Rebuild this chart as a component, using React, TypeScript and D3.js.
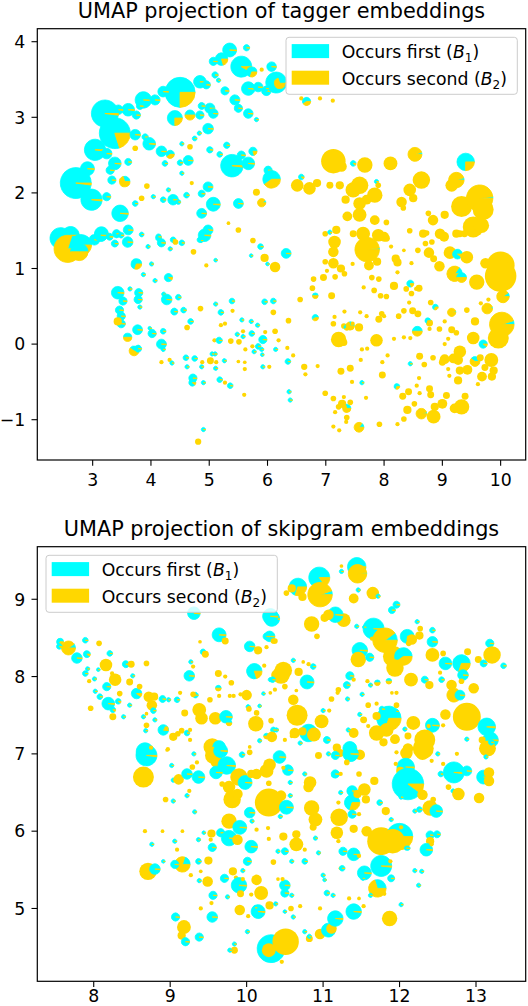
import * as d3 from 'd3';

type Pt = [number, number, number, number]; // x, y, count, share that occurs first

// UMAP of tagger embeddings
const taggerPoints: Pt[] = [
  [5.64,3.92,3.5,.98],[5.35,3.89,17,.98],[5.21,3.77,14,.8],[5.07,3.74,6,.98],[5.55,3.67,39,.92],
  [5.73,3.60,9,.7],[5.90,3.63,1.6,0],[6.07,3.67,8,.98],[4.84,3.47,14,.98],[5.10,3.56,3.5,.98],
  [5.16,3.49,1.6,.98],[4.50,3.33,80,.75],[4.21,3.34,10,.98],[4.95,3.43,6,.98],[5.27,3.35,6,.98],
  [5.44,3.23,9,.98],[5.50,3.12,6,.98],[5.67,3.38,16,.98],[5.84,3.40,8,.98],[5.98,3.35,8,.98],
  [6.15,3.46,39,.98],[6.21,3.45,10,.3],[5.67,3.05,8,.98],[5.81,2.97,1.6,.98],[3.87,3.23,24,.98],
  [4.07,3.23,9,.98],[3.81,3.15,4.3,.98],[3.61,3.10,14,.98],[3.44,3.10,8,.98],[3.75,3.03,6,.98],
  [3.21,3.05,65,.98],[3.38,2.79,85,.8],[4.41,2.99,20,.75],[4.67,3.03,9,.5],[5.01,3.12,9,.98],
  [4.87,3.15,4.3,.98],[5.07,3.05,8,.98],[4.84,3.03,6,.98],[4.98,2.85,9.8,.98],[4.83,2.79,1.6,.98],
  [4.75,2.72,2,.98],[3.73,2.77,9.8,.98],[3.90,2.74,3.5,.98],[3.97,2.65,14,.98],[3.04,2.57,40,.98],
  [3.24,2.52,9.8,.98],[3.38,2.39,14,.98],[3.61,2.41,4.3,.98],[3.73,2.59,2.8,0],[4.18,2.55,9.8,.98],
  [4.33,2.51,6,.6],[4.24,2.39,2.8,.98],[4.53,2.65,1.6,.98],[4.67,2.61,2.8,0],[4.64,2.43,8.5,.98],
  [4.50,2.40,2.8,.98],[4.53,2.26,1.6,.98],[5.01,2.57,3.5,.98],[5.18,2.51,2.8,.98],[5.30,2.63,3.5,.98],
  [5.39,2.36,45,.98],[5.67,2.39,14,.98],[5.75,2.55,6,.8],[5.55,2.50,6,.98],[6.01,2.30,6,.98],
  [6.07,2.18,27,.6],[5.98,3.38,2,.98],[6.58,3.25,1.6,0],[6.67,3.21,6,.6],[6.90,3.25,1.6,0],
  [7.12,3.22,1.6,0],[5.81,2.01,4.3,0],[5.90,1.87,6,.1],[5.50,1.86,8.5,.98],[4.98,2.08,8.5,.98],
  [5.07,1.85,17,.98],[4.87,1.99,4.3,.98],[4.70,2.13,1.6,0],[4.61,1.97,2.8,.98],[4.38,1.91,9.8,.98],
  [4.30,2.04,1.6,.98],[3.93,2.09,2.8,0],[3.55,2.15,9.8,.3],[3.30,2.30,6,.98],[2.91,2.32,17,.98],
  [2.71,2.13,85,.98],[2.98,1.91,40,.98],[3.24,1.95,6,.98],[3.33,2.17,6,.98],[3.47,1.73,24,.98],
  [3.61,1.51,8.5,.98],[3.15,1.46,17,.98],[3.41,1.46,6,.98],[3.84,1.93,2.8,0],[4.04,1.95,1.6,.98],
  [3.73,1.86,2.8,.98],[4.21,1.91,2.8,.98],[4.47,1.88,2,.98],[4.87,1.73,8.5,.98],[5.33,1.60,1.2,0],
  [5.50,1.51,2.8,0],[4.98,1.51,8.5,.98],[4.84,1.38,2.8,.98],[4.13,1.40,2.8,.98],[4.38,1.38,2.8,.98],
  [2.45,1.40,40,.9],[2.62,1.44,27,.98],[2.80,1.31,39,.4],[2.57,1.26,65,.2],[2.77,1.22,27,.5],
  [3.03,1.38,9.8,.98],[3.14,1.44,14,.98],[3.29,1.42,4.3,.98],[3.38,1.33,4.3,.98],[3.49,1.44,2.8,.98],
  [3.60,1.35,9.8,.98],[3.84,1.45,2,.98],[3.95,1.29,1.6,.98],[4.13,1.42,2.8,.98],[4.18,1.34,6,.98],
  [4.33,1.26,1.6,.98],[4.42,1.35,2.8,0],[4.53,1.34,2.8,.98],[4.92,1.44,14,.98],[4.86,1.37,1.6,.98],
  [4.73,1.22,2.8,0],[4.95,1.04,1.6,0],[5.11,1.11,1.2,.98],[3.75,1.06,9.8,.7],[4.01,1.06,1.6,.98],
  [4.07,0.84,1.6,.98],[4.30,0.88,6,.9],[3.87,0.92,1.6,.98],[3.43,0.68,14,.98],[3.64,0.73,1.6,.98],
  [3.79,0.68,6,.98],[3.78,0.59,6,.98],[3.52,0.57,6,.98],[3.46,0.45,6,.98],[3.49,0.37,6,.98],
  [3.49,0.27,6,.98],[3.43,0.30,6,0],[3.81,0.49,1.6,.98],[3.60,0.09,6,.5],[3.77,0.19,8.5,.98],
  [3.71,-0.09,8.5,.4],[3.78,-0.06,4.3,.98],[3.98,0.21,1.2,.98],[4.02,0.14,6,.98],[4.21,0.17,2.8,.98],
  [4.18,0.0,8.5,.98],[4.21,-0.07,1.6,.98],[4.18,-0.24,1.6,0],[4.32,-0.21,1.6,0],[4.36,-0.25,1.6,.98],
  [4.22,0.66,1.6,.98],[4.27,0.59,9.8,.98],[4.47,0.62,2.8,.98],[4.40,0.43,4.3,.98],[4.56,0.45,2.8,.98],
  [4.68,0.30,2.8,.98],[4.62,0.22,2.8,0],[4.85,0.47,2.8,0],[4.60,-0.18,2.8,.98],[4.62,-0.30,1.6,.98],
  [4.75,-0.19,2.8,.98],[4.72,-0.45,6,.98],[4.71,-0.51,4.3,.9],[4.87,-0.30,1.6,.98],[4.88,-0.24,1.6,0],
  [4.90,-1.13,1.6,.98],[4.81,-1.29,3.5,0],[4.90,-0.51,1.6,.98],[5.02,-0.22,4.3,0],[5.10,-0.13,1.6,.98],
  [5.12,-0.24,1.6,0],[5.11,-0.32,1.6,.98],[5.05,-0.13,1.6,.98],[5.09,0.05,1.6,0],[5.17,0.05,3.5,.98],
  [5.11,0.53,1.6,.98],[5.20,0.42,2.8,.98],[5.20,0.25,1.6,0],[5.27,0.27,1.6,0],[5.18,-0.47,2.8,.98],
  [5.27,-0.51,1.6,0],[5.36,-0.55,2.8,.98],[5.26,-0.22,1.6,.98],[5.37,0.04,2.8,0],[5.39,0.57,2.8,.98],
  [5.40,0.44,1.6,0],[5.48,0.13,1.6,.98],[5.51,0.03,2.8,0],[5.50,-0.23,1.2,0],[5.56,0.32,1.6,.98],
  [5.58,0.17,1.6,0],[5.58,0.10,1.6,.98],[5.61,-0.33,1.6,0],[5.61,-0.24,1.2,0],[5.60,-0.67,1.6,0],
  [5.62,-0.07,1.6,0],[5.72,0.30,1.6,.98],[5.73,0.14,2.8,.98],[5.74,-0.03,1.6,0],[5.77,-0.10,1.6,.98],
  [5.83,0.25,1.6,.98],[5.84,-0.03,2.8,.98],[5.92,0.06,6,.98],[5.90,-0.07,1.6,.98],[5.91,-0.14,1.2,.98],
  [5.92,-0.30,1.6,.98],[5.95,0.56,2.8,.98],[5.96,0.16,1.6,0],[6.0,1.06,1.2,.98],[5.72,1.17,1.2,.98],
  [5.75,1.37,2.8,0],[5.88,1.29,2.8,.98],[5.95,1.14,6,0],[6.03,-0.30,1.6,0],[6.10,0.57,2.8,.98],
  [6.10,0.42,2.8,0],[6.13,0.17,2.8,0],[6.13,1.02,9.8,0],[6.14,-0.07,1.6,.98],[6.19,0.05,1.6,0],
  [6.32,1.20,8.5,.98],[6.34,-0.05,1.6,0],[6.36,0.31,2.8,0],[6.35,-0.23,2.8,.98],[6.37,-0.63,1.6,.98],
  [6.39,-0.74,1.6,.98],[6.44,-0.15,1.6,0],[6.56,0.59,2.8,0],[6.63,-0.30,3.5,0],[6.65,-0.40,1.6,0],
  [6.86,-0.29,1.6,0],
  [6.82,0.64,2.8,.5],[6.82,0.35,3.5,.6],[6.79,0.86,2.8,0],[6.77,0.74,2.8,0],[6.96,0.88,4.3,0],
  [6.99,1.09,2.8,0],[7.02,0.97,1.6,0],[7.10,0.64,4.3,0],[7.13,0.27,2.8,0],[7.15,0.36,1.6,0],
  [7.16,0.89,2.8,0],[7.15,1.35,14,0],[7.13,1.22,9.8,0],[7.13,1.07,9.8,0],[7.26,1.00,6,0],
  [7.32,0.93,2.8,0],[7.46,1.06,1.6,0],[6.99,1.46,2.8,0],[7.22,0.06,21,0],[7.31,0.02,4.3,0],
  [7.32,0.43,1.6,0],[7.31,0.24,2.8,0],[7.36,0.22,2.8,.6],[7.42,0.24,6,.3],[7.46,0.27,1.6,0],
  [7.57,0.22,6,0],[7.59,0.42,1.6,0],[7.70,0.37,1.6,0],[7.65,0.75,1.6,0],[7.83,0.71,2.8,0],
  [7.87,0.05,14,0],[7.91,0.33,4.3,0],[7.96,0.40,2.8,0],[8.00,0.37,1.6,0],[8.04,0.63,2.8,0],
  [7.94,0.64,2.8,0],[7.79,0.88,2.8,0],[7.91,0.86,2.8,0],[7.71,1.25,53,.02],[7.74,1.04,8.5,0],
  [7.88,1.09,6,0],[8.00,1.42,8.5,0],[8.12,1.29,1.6,0],[8.20,1.13,6,0],[8.23,1.08,6,0],
  [8.23,0.95,1.6,0],[8.17,0.77,6,0],[8.34,1.24,1.2,0],[8.47,1.07,1.6,0],[8.55,0.73,1.6,0],
  [8.60,0.74,4.3,0],[8.45,0.80,4.3,.8],[8.38,0.73,2.8,0],[8.47,0.67,2.8,0],[8.43,0.55,1.6,0],
  [8.49,0.44,4.3,0],[8.58,0.40,4.3,0],[8.34,0.44,2.8,0],[8.25,0.37,2.8,0],[8.17,0.07,1.6,0],
  [8.34,0.09,1.6,0],[8.45,0.08,1.6,0],[8.57,0.17,8.5,.5],[8.78,0.28,4.3,0],[8.80,0.55,2.8,0],
  [8.88,0.49,2.8,.7],[8.75,0.31,2.8,.7],[8.78,0.20,1.6,0],[8.95,0.20,2.8,0],[9.04,0.30,1.6,0],
  [9.04,0.00,1.6,0],[9.10,0.07,1.6,0],[9.16,0.42,6,.05],[9.16,0.19,4.3,0],[9.24,0.15,2.8,0],
  [9.42,0.45,2.8,0],[9.56,0.30,6,0],[9.53,0.08,14,0],[9.77,0.47,9.8,.05],[9.66,0.54,1.6,0],
  [9.79,0.59,1.6,0],[10.04,0.63,14,.1],[10.02,0.26,53,.05],[9.96,0.08,39,0],[9.70,0.00,6,.9],
  [9.30,-0.10,14,0],[9.27,-0.21,8.5,0],[9.19,-0.19,8.5,0],[9.04,-0.20,8.5,0],[9.10,-0.33,1.6,0],
  [9.12,-0.42,1.6,0],[9.27,-0.48,6,0],[9.30,-0.35,6,0],[9.43,-0.34,8.5,0],[9.56,-0.23,8.5,.4],
  [9.65,-0.18,4.3,0],[9.84,-0.21,17,0],[9.73,-0.31,4.3,0],[9.88,-0.35,6,0],[9.68,-0.43,8.5,0],
  [9.85,-0.43,6,0],[9.61,-0.53,1.6,0],[9.39,-0.69,4.3,0],[9.33,-0.83,21,0],[9.21,-0.85,8.5,0],
  [9.07,-0.68,4.3,0],[9.00,-0.79,8.5,0],[8.87,-0.83,6,0],[8.85,-0.96,17,0],[8.64,-0.92,9.8,.05],
  [8.78,-0.59,4.3,0],[8.80,-0.67,4.3,0],[8.69,-0.27,2.8,0],[8.84,-0.18,2.8,0],[9.00,-0.24,4.3,0],
  [8.61,-0.16,4.3,0],[8.60,-0.45,1.6,0],[8.61,-0.65,1.6,0],[8.56,-0.55,1.6,0],[8.42,-0.63,4.3,0],
  [8.40,-0.87,6,0],[8.52,-0.79,2.8,0],[8.32,-0.69,4.3,0],[8.34,-0.99,2.8,0],[8.23,-1.06,1.6,0],
  [8.22,-0.56,2.8,.7],[7.97,-0.41,4.3,0],[7.97,-0.24,1.6,0],[7.92,-1.06,2.8,0],[8.06,-0.15,1.6,0],
  [8.45,-0.26,1.6,.98],[7.69,-0.71,1.6,0],[7.57,-1.10,8.5,.15],[7.62,-0.51,1.6,.98],[7.42,-0.32,4.3,0],
  [7.45,-0.50,1.6,0],[7.60,-0.21,1.6,0],[7.62,-0.07,1.6,0],[7.71,-0.06,1.6,0],[7.26,-0.36,4.3,0],
  [6.99,-0.65,2.8,0],[7.13,-0.72,2.8,0],[7.22,-0.83,2.8,0],[7.31,-0.70,1.6,0],[7.28,-0.79,6,0],
  [7.36,-0.85,6,.3],[7.42,-0.77,2.8,0],[7.36,-0.97,2.8,0],[7.35,-1.03,1.6,0],[7.16,-0.90,1.6,0],
  [7.13,-1.09,1.6,0],[7.23,-1.14,1.6,0],
  [8.58,1.24,2.8,0],[8.73,1.47,2.8,0],[8.71,1.33,2.8,0],[8.82,1.35,2.8,0],[8.77,1.21,9.8,0],
  [8.85,1.13,4.3,0],[8.95,1.03,9.8,0],[9.03,1.42,8.5,0],[9.13,1.21,14,0],[9.26,1.19,8.5,.9],
  [9.42,1.15,14,0],[9.30,1.46,4.3,0],[9.21,0.93,21,.15],[9.33,0.88,8.5,.5],[9.59,0.82,21,0],
  [9.74,1.07,9.8,0],[10.0,1.04,69,0],[10.0,0.90,88,0],
  [7.13,2.42,53,0],[7.27,2.35,9.8,0],[7.47,2.39,2.8,.9],[7.67,2.37,21,0],[7.87,2.15,1.6,.9],
  [8.11,2.39,17,0],[8.53,2.51,17,.05],[9.40,2.41,27,.75],[9.24,2.17,21,.05],[8.64,2.17,27,0],
  [8.44,2.04,14,0],[8.50,1.93,6,0],[8.30,1.88,9.8,0],[8.33,1.80,2.8,0],[7.84,1.97,21,0],
  [7.58,2.10,27,0],[7.47,2.04,21,0],[7.70,1.91,8.5,0],[7.58,1.86,14,0],[7.34,1.91,6,0],
  [7.24,2.10,6,0],[7.07,2.10,4.3,0],[6.85,2.13,6,0],[6.72,2.06,14,0],[6.51,2.10,14,0],
  [6.58,2.21,2.8,.9],[7.90,2.10,2.8,0],[8.04,1.61,2.8,0],[7.37,1.69,8.5,0],[7.58,1.71,17,0],
  [7.84,1.64,8.5,0],[7.18,1.51,6,0],[7.07,1.48,1.6,.9],[7.47,1.46,4.3,0],[7.64,1.46,17,0],
  [7.90,1.44,14,0],[8.04,1.40,4.3,0],[8.44,1.50,2.8,0],[8.84,1.64,9.8,0],[8.96,1.46,9.8,0],
  [9.33,1.82,39,0],[9.64,1.93,62,.02],[9.70,1.78,39,0],[9.53,1.55,39,0],[9.67,1.57,21,0],
  [9.16,2.10,14,0],[9.04,1.71,6,0],[8.76,1.73,2.8,0],[8.67,1.46,6,0],[9.24,1.46,6,0],
  [9.38,1.46,4.3,0],
];

// UMAP of skipgram embeddings
const skipgramPoints: Pt[] = [
  [7.56,8.45,4.3,.7],[7.67,8.37,17,.1],[7.55,8.39,2.8,.9],[7.89,8.47,2.8,.98],[8.07,8.43,2.8,0],
  [7.78,8.24,9.8,.98],[7.91,8.29,4.3,.9],[8.16,8.15,14,0],[7.89,8.04,2.8,.98],[7.92,8.10,1.6,.98],
  [7.94,7.94,1.6,0],[8.01,7.97,1.6,.98],[8.06,8.09,1.2,.98],[8.24,8.04,1.6,0],[8.28,7.96,14,0],
  [8.21,8.30,2.8,.98],[8.42,8.16,4.3,.98],[8.49,8.16,4.3,0],[8.51,8.01,1.6,.98],[8.47,7.93,4.3,0],
  [8.56,7.78,9.8,.9],[8.60,7.87,2.8,0],[8.69,8.17,2.8,0],[8.17,7.87,6,.98],[8.08,7.74,2.8,.98],
  [8.02,7.81,1.6,.98],[7.96,7.59,2.8,0],[8.19,7.65,14,.98],[8.25,7.57,2.8,.9],[8.32,7.68,2.8,.9],
  [8.34,7.78,2.8,0],[8.25,7.48,4.3,0],[8.39,7.48,1.6,.98],[8.47,7.63,1.6,.98],[8.65,7.48,1.6,.98],
  [8.69,7.52,1.2,0],[8.72,7.74,9.8,0],[8.76,7.63,9.8,0],[8.79,7.74,6,0],[8.78,7.56,2.8,.98],
  [8.80,7.44,1.6,.98],[8.69,7.37,2.8,0],[8.68,7.30,1.6,.98],[8.90,7.71,4.3,.98],[8.98,7.70,1.6,.98],
  [8.91,7.31,9.8,.98],[8.95,7.33,1.6,0],[9.04,7.22,6,0],[9.10,7.26,2.8,0],[9.15,7.30,2.8,0],
  [9.09,7.70,2.8,.98],[9.13,7.79,1.6,0],[9.19,7.53,4.3,0],[9.22,7.27,2.8,.98],[9.26,7.31,1.6,0],
  [9.26,7.18,1.6,0],[9.33,7.76,2.8,.98],[9.30,7.77,2.8,0],[9.30,8.13,1.6,0],[9.25,8.01,9.8,.98],
  [9.27,8.19,1.6,.98],[9.39,8.45,1.2,0],[9.43,8.32,2.8,.98],[9.46,8.29,4.3,0],[9.64,8.54,17,.98],
  [9.72,8.46,4.3,0],[9.31,8.82,14,.98],[9.38,7.57,17,0],[9.41,7.46,14,0],[9.52,7.70,2.8,0],
  [9.59,7.46,14,0],[9.63,7.85,2.8,.5],[9.64,7.75,1.6,0],[9.73,7.48,14,.98],[9.77,7.40,2.8,.5],
  [9.78,7.75,1.6,0],[9.83,7.75,1.6,0],[9.92,7.77,1.6,0],[10.0,7.76,9.8,0],[10.02,7.61,1.6,.98],
  [10.03,7.58,2.8,0],[10.13,7.53,2.8,0],[10.12,7.39,21,0],[10.17,7.62,1.2,.98],[10.22,7.78,1.2,.98],
  [10.32,7.43,2.8,0],[10.39,7.31,1.6,.98],[10.26,7.23,2.8,.5],[10.17,7.17,1.6,.98],[9.63,8.04,4.3,0],
  [9.72,8.00,1.6,0],[9.80,7.92,2.8,0],[10.04,8.39,9.8,.98],[10.15,8.34,6,0],[10.10,8.07,21,.8],
  [10.23,8.14,1.6,0],[10.30,8.52,9.8,.98],[10.37,8.46,2.8,0],[10.31,7.96,1.6,.98],[10.39,8.02,9.8,0],
  [10.33,8.75,21,.98],[9.55,7.09,27,0],[9.64,7.09,14,.98],[8.67,7.03,27,.98],[8.73,7.08,1.6,0],
  [8.97,7.06,1.6,0],
  [11.44,9.42,30,.98],[11.45,9.33,30,.02],[11.24,9.43,1.2,0],[11.24,9.36,1.6,.98],[10.95,9.28,39,.85],
  [10.96,9.06,53,.05],[10.67,9.16,27,.7],[10.59,9.14,6,0],[10.52,9.08,2.8,0],[10.73,9.03,6,0],
  [11.46,9.12,1.6,.98],[11.65,9.08,14,0],[11.40,9.01,8.5,0],[11.72,9.04,1.6,.9],[11.90,8.86,4.3,.98],
  [11.96,8.93,4.3,.98],[11.66,8.62,39,.98],[11.81,8.47,53,.1],[11.64,8.49,1.6,0],[11.48,8.34,21,.98],
  [11.46,8.22,21,0],[11.61,8.25,6,.98],[11.92,8.26,39,0],[12.05,8.26,27,.6],[11.94,8.11,27,0],
  [12.10,8.52,17,.98],[12.16,8.48,9.8,0],[12.26,8.53,6,0],[12.27,8.62,2.8,0],[12.23,8.71,1.6,.98],
  [12.43,8.45,9.8,.98],[12.43,8.60,2.8,.98],[12.43,8.28,17,0],[12.57,8.30,2.8,0],[12.60,8.17,14,.98],
  [12.81,8.17,27,.7],[12.89,8.32,4.3,0],[13.03,8.22,4.3,0],[13.18,8.43,6,.98],[13.21,8.28,27,0],
  [13.10,8.17,4.3,.98],[13.36,8.14,2.8,.98],[12.15,7.96,17,0],[12.33,7.96,4.3,.98],[12.39,7.89,6,0],
  [12.53,8.05,1.6,0],[12.55,7.96,2.8,.98],[12.68,7.89,9.8,0],[12.83,8.02,9.8,.98],[12.81,7.94,2.8,0],
  [12.97,7.85,9.8,0],[12.71,7.76,17,.1],[12.79,7.76,8.5,.98],[12.60,7.51,9.8,0],[12.88,7.48,69,0],
  [13.14,7.35,27,.98],[13.19,7.18,21,.98],[13.08,7.18,4.3,0],[13.14,7.07,21,0],[12.88,7.19,1.6,.98],
  [12.57,7.37,1.6,0],[12.43,7.37,17,.98],[12.38,7.36,1.6,0],[12.18,7.40,17,0],[12.33,7.18,39,0],
  [12.30,7.01,17,0],[12.07,7.32,1.6,.98],[12.11,7.23,4.3,0],[12.09,7.01,14,0],[11.86,7.46,53,.7],
  [11.83,7.31,17,0],[11.70,7.27,21,0],[11.70,7.49,6,0],[11.77,7.58,2.8,.98],[11.96,7.63,2.8,0],
  [11.96,7.55,1.6,.98],[11.48,7.51,1.6,.98],[11.53,7.44,4.3,0],[11.59,7.36,1.6,0],[11.79,7.15,6,0],
  [11.94,7.19,8.5,0],[11.96,7.02,1.6,0],[11.48,6.99,9.8,0],[11.35,7.07,17,.98],[11.22,7.01,6,0],
  [11.40,7.27,8.5,0],[11.33,7.31,1.6,.9],[11.05,7.18,4.3,.98],[10.98,7.42,17,0],[10.90,7.31,1.6,0],
  [10.81,7.27,27,.98],[10.73,7.29,6,0],[10.88,7.25,17,0],[10.63,7.27,9.8,0],[10.59,7.23,1.6,0],
  [10.70,7.14,1.6,.98],[10.66,7.50,39,0],[10.35,7.31,2.8,.98],[10.33,7.22,9.8,0],[10.50,7.18,1.6,0],
  [11.00,7.56,1.6,.98],[11.08,7.56,1.6,0],[11.20,7.83,2.8,0],[11.19,7.79,1.6,0],[11.11,7.71,2.8,0],
  [11.32,7.71,1.6,.98],[11.31,7.89,4.3,.98],[11.35,8.01,6,.98],[11.40,7.96,1.6,0],[11.51,7.77,1.6,.98],
  [11.58,7.94,1.6,0],[11.62,7.89,1.6,.98],[11.71,7.92,2.8,.5],[11.86,7.94,2.8,.5],[11.96,7.79,1.6,0],
  [11.90,7.79,1.2,0],[11.59,7.63,2.8,0],[11.70,7.65,1.6,0],[10.87,8.13,2.8,.98],[10.81,8.16,1.6,0],
  [10.74,8.19,1.2,0],[10.61,8.21,1.6,.98],[10.68,8.06,6,0],[10.79,7.93,17,.98],[10.61,7.70,9.8,0],
  [10.65,7.82,1.2,0],[10.50,7.87,2.8,0],[10.45,8.02,27,0],[10.48,8.08,27,0],[10.34,7.96,2.8,.98],
  [10.37,7.83,1.6,0],[10.31,7.79,1.2,0],[10.92,8.52,2.8,0],[11.44,8.65,1.6,.98],[11.27,8.73,17,0],
  [11.16,8.80,21,.98],[11.07,8.80,9.8,0],[10.85,8.68,21,0],[11.02,8.76,6,0],[10.31,8.78,21,.98],
  [10.26,8.52,4.3,.98],[10.35,8.46,2.8,0],[10.26,8.38,1.6,0],[11.54,8.64,1.2,.98],[12.12,8.43,2.8,0],
  [8.69,6.98,39,.98],[8.75,7.08,1.6,0],[8.65,6.70,39,0],[8.96,7.05,1.2,0],[9.02,6.85,1.6,.98],
  [9.04,6.66,1.6,.98],[9.11,6.67,9.8,0],[9.22,6.74,9.8,.98],[9.37,6.70,14,.98],[9.31,7.00,1.6,.98],
  [9.29,6.83,2.8,0],[9.35,6.89,1.6,0],[9.25,6.52,1.6,0],[9.22,6.46,1.6,.98],[8.94,6.41,2.8,0],
  [9.04,6.39,1.6,.98],[9.32,6.25,1.6,.98],[9.57,6.98,27,0],[9.66,7.04,17,.98],[9.60,6.89,9.8,0],
  [9.74,6.85,27,.98],[9.60,6.76,14,.98],[9.68,6.61,2.8,0],[9.77,6.57,14,0],[9.81,6.41,27,0],
  [9.88,6.48,9.8,0],[9.90,6.70,27,0],[9.98,6.63,17,.98],[9.94,6.99,2.8,.98],[10.04,7.02,2.8,0],
  [10.06,6.74,6,0],[10.13,6.74,9.8,0],[10.26,6.78,17,0],[10.30,6.86,14,0],[10.29,6.62,2.8,0],
  [10.04,7.09,1.2,0],[10.43,6.96,14,.98],[10.54,6.79,9.8,.98],[10.48,6.82,1.6,0],[10.57,6.63,1.6,.98],
  [10.29,6.37,69,0],[10.45,6.46,9.8,0],[10.52,6.31,17,.98],[10.44,6.19,1.6,.98],[10.57,6.46,1.6,.98],
  [9.77,6.13,21,0],[9.91,6.05,17,.98],[9.66,5.98,6,.98],[9.77,5.91,21,.98],[9.88,5.89,9.8,0],
  [10.04,6.24,9.8,.98],[10.07,6.13,1.6,.98],[10.06,5.80,14,.98],[10.13,6.02,1.6,0],[10.28,6.04,1.6,0],
  [10.29,5.90,1.6,0],[10.41,5.74,1.6,.98],[10.50,5.74,4.3,.98],[10.48,5.93,6,0],[10.65,5.83,17,0],
  [10.65,5.96,6,0],[10.59,5.61,1.6,.98],[10.76,5.61,2.8,.98],[10.76,5.76,1.6,0],[10.94,5.72,1.6,.98],
  [10.90,5.91,1.6,.98],[10.87,6.05,4.3,0],[10.90,6.15,17,0],[10.85,6.30,21,0],[10.83,6.63,14,0],
  [10.81,6.57,9.8,0],[10.76,6.74,1.6,.98],[10.94,6.98,4.3,0],[11.07,7.00,1.6,.98],[11.14,6.72,1.6,.98],
  [11.20,6.37,1.6,0],[11.23,6.50,1.6,.98],[11.21,6.18,27,0],[11.18,5.98,14,0],[11.20,5.87,1.6,0],
  [11.26,5.74,6,.98],[11.18,7.08,6,0],[11.36,7.00,21,.98],[11.16,6.98,6,.98],[11.16,6.74,6,.98],
  [11.31,6.89,2.8,0],[11.23,6.74,1.6,0],[11.38,6.52,9.8,.98],[11.38,6.37,21,.7],[11.45,6.48,6,0],
  [11.54,6.54,14,0],[11.56,6.41,6,0],[11.47,6.74,2.8,0],[11.38,6.22,6,.98],[11.47,6.22,1.6,0],
  [11.40,6.03,6,0],[11.57,6.00,9.8,0],[11.67,6.65,6,0],[11.74,6.37,2.8,.98],[11.40,5.70,14,.98],
  [11.47,5.68,1.6,0],[11.54,5.46,17,.98],[11.52,5.39,1.6,.98],[11.76,5.87,69,0],[12.00,5.93,62,.5],
  [11.91,5.87,53,0],[12.11,5.78,1.6,.98],[11.82,6.26,6,0],[11.89,6.15,1.6,.98],[11.76,5.55,39,.98],
  [11.89,5.39,4.3,.98],[11.88,5.61,1.6,0],[11.71,5.26,27,.3],[11.80,5.19,1.6,0],[11.62,5.17,1.6,.98],
  [11.53,5.03,1.6,0],[11.47,5.13,1.2,0],[11.34,5.13,1.6,0],[11.40,4.96,21,.98],[11.87,4.87,21,0],
  [12.08,6.83,27,.98],[12.01,6.78,6,0],[11.95,6.87,1.6,0],[12.11,6.61,88,.9],[12.11,7.07,9.8,0],
  [12.31,7.07,39,0],[12.30,6.47,9.8,0],[12.40,6.30,21,0],[12.48,6.26,14,.98],[12.44,6.41,2.8,0],
  [12.26,6.28,2.8,.98],[12.02,6.44,1.6,.98],[12.20,6.26,1.6,.98],[12.02,6.05,1.6,0],[12.50,7.00,1.6,.98],
  [12.42,6.91,1.6,0],[12.54,6.74,2.8,.98],[12.71,6.76,39,.98],[12.88,6.78,8.5,.98],[12.75,7.00,1.6,0],
  [12.57,6.87,1.6,0],[12.64,6.57,2.8,0],[12.70,6.52,1.6,.98],[12.77,6.48,14,0],[13.04,6.43,9.8,0],
  [13.10,6.70,17,.98],[13.17,6.76,9.8,0],[13.17,6.65,9.8,0],[13.16,7.07,21,0],[13.20,7.15,2.8,.98],
  [13.13,6.96,1.6,.98],[12.40,5.95,6,.98],[12.40,5.87,6,0],[12.49,5.96,4.3,.98],[12.35,5.76,14,.98],
  [12.42,5.83,1.6,0],[12.20,5.49,1.6,.98],[12.29,5.48,1.6,.98],[12.25,5.30,1.6,.98],[12.02,5.05,1.6,.98],
  [12.09,5.78,1.6,.98],
  [8.71,5.48,27,0],[8.80,5.51,9.8,.98],[8.76,5.83,1.6,.98],[8.91,5.61,1.2,.98],[8.67,6.00,1.6,0],
  [8.90,6.00,1.2,0],[9.16,5.57,21,.2],[9.06,5.57,6,.98],[9.06,5.87,1.6,.98],[9.09,5.76,1.6,0],
  [9.16,6.00,1.2,0],[9.27,5.43,1.6,0],[9.37,5.61,2.8,.98],[9.37,5.89,1.6,.98],[9.44,5.98,1.2,.98],
  [9.54,5.97,6,0],[9.53,5.89,1.6,0],[9.55,5.79,6,.98],[9.50,5.62,6,0],[9.49,5.35,9.8,0],
  [9.56,5.17,6,.98],[9.54,5.07,1.6,0],[9.38,5.36,1.6,.98],[9.40,5.48,1.2,0],[9.71,5.39,6,.98],
  [9.75,5.15,1.6,.98],[9.82,5.48,6,0],[9.86,5.40,1.6,0],[9.90,5.30,21,.98],[9.92,5.19,4.3,0],
  [9.95,5.49,1.6,.98],[9.95,5.38,1.6,0],[10.01,5.61,6,.98],[10.13,5.37,9.8,0],[10.19,5.20,17,0],
  [10.06,5.18,1.6,0],[10.15,4.96,17,.98],[10.11,5.01,1.6,.98],[9.91,4.98,9.8,0],[10.02,4.90,1.6,0],
  [10.30,5.04,6,0],[10.38,5.06,1.6,.98],[10.50,5.30,9.8,.98],[10.50,5.20,6,.98],[10.47,5.38,1.6,0],
  [10.41,5.38,1.2,0],[10.59,5.17,1.6,.98],[10.70,5.03,1.6,0],[10.58,5.00,2.8,0],[10.61,4.89,1.6,.98],
  [10.35,5.60,2.8,0],[10.50,4.96,1.2,.98],[9.07,4.89,6,.98],[9.18,4.76,17,0],[9.15,4.65,6,0],
  [9.20,4.57,6,.98],[9.38,4.63,6,.98],[9.40,5.00,1.6,0],[9.55,4.89,9.8,.98],[10.01,4.70,1.6,.98],
  [10.32,4.48,69,.98],[10.29,4.46,17,0],[10.51,4.57,62,0],[10.46,4.31,1.6,0],[9.84,4.54,1.6,.98],
  [9.84,4.46,4.3,0],[9.78,4.46,1.6,.98],[10.82,4.61,4.3,0],[10.82,4.64,1.6,.98],[10.76,4.70,1.6,.98],
  [10.96,4.67,9.8,0],[10.96,5.00,1.6,0],[11.07,4.72,17,.98],[11.11,4.74,9.8,0],[11.16,4.87,21,.98],
  [11.05,5.20,2.8,.98],[11.13,5.17,1.6,.98],[11.23,5.52,1.6,0],[11.00,5.43,1.6,.98],[11.25,5.52,2.8,.98],
  [11.02,5.37,1.2,.98],
];

const taggerXTicks = [3, 4, 5, 6, 7, 8, 9, 10];
const taggerYTicks = [-1, 0, 1, 2, 3, 4];
const skipgramXTicks = [8, 9, 10, 11, 12, 13];
const skipgramYTicks = [5, 6, 7, 8, 9];
const seriesNames = ['Occurs first', 'Occurs second'];
const seriesSubs = ['1', '2'];
const seriesColors = ['#00ffff', '#ffd700'];

const FONT = '"DejaVu Sans", sans-serif';
const rScale = d3.scaleSqrt().domain([0, 100]).range([0, 16.8]);
const arcGen = d3.arc();

const fmt = (t: number) => (t < 0 ? '\u2212' + Math.abs(t) : String(t));

function Marker({ cx, cy, n, p }: { cx: number; cy: number; n: number; p: number }) {
  const r = rScale(n);
  const split = Math.PI / 2 - p * 2 * Math.PI; // matplotlib angle -> d3 angle
  const parts: JSX.Element[] = [];
  if (p > 0) {
    const d = p >= 1 ? null : arcGen({ innerRadius: 0, outerRadius: r, startAngle: split, endAngle: Math.PI / 2 } as any);
    parts.push(
      d ? (
        <path key="a" d={d} fill={seriesColors[0]} stroke={seriesColors[0]} strokeWidth={0.8} />
      ) : (
        <circle key="a" r={r} fill={seriesColors[0]} />
      ),
    );
  }
  if (p < 1) {
    const d = p <= 0 ? null : arcGen({ innerRadius: 0, outerRadius: r, startAngle: Math.PI / 2 - 2 * Math.PI, endAngle: split } as any);
    parts.push(
      d ? (
        <path key="b" d={d} fill={seriesColors[1]} stroke={seriesColors[1]} strokeWidth={0.9} />
      ) : (
        <circle key="b" r={r} fill={seriesColors[1]} />
      ),
    );
  }
  return <g transform={`translate(${cx},${cy})`}>{parts}</g>;
}

function Legend({ x, y }: { x: number; y: number }) {
  return (
    <g transform={`translate(${x},${y})`} fontFamily={FONT} fontSize={17.3}>
      <rect x={0} y={0} width={231.3} height={57} rx={3} fill="white" fillOpacity={0.8} stroke="#cccccc" strokeWidth={1} />
      {seriesNames.map((name, i) => (
        <g key={name}>
          <rect x={5.7} y={6.8 + i * 26.6} width={37.4} height={14} fill={seriesColors[i]} />
          <text x={55.7} y={21 + i * 26.3}>
            {name} (<tspan fontStyle="italic">B</tspan>
            <tspan fontSize={12} dy={4}>{seriesSubs[i]}</tspan>
            <tspan dy={-4}>)</tspan>
          </text>
        </g>
      ))}
    </g>
  );
}

function Panel({
  id, title, points, xDomain, yDomain, top, bottom, xTicks, yTicks, legend, labelOffset,
}: {
  id: string; title: string; points: Pt[]; xDomain: [number, number]; yDomain: [number, number];
  top: number; bottom: number; xTicks: number[]; yTicks: number[]; legend: [number, number]; labelOffset: number;
}) {
  const left = 37.3;
  const right = 525.7;
  const x = d3.scaleLinear().domain(xDomain).range([left, right]);
  const y = d3.scaleLinear().domain(yDomain).range([bottom, top]);
  return (
    <g>
      <defs>
        <clipPath id={id}>
          <rect x={left} y={top} width={right - left} height={bottom - top} />
        </clipPath>
      </defs>
      <text x={(left + right) / 2} y={top - 10.3} textAnchor="middle" fontFamily={FONT} fontSize={20.8}>
        {title}
      </text>
      <g clipPath={`url(#${id})`}>
        {points.map((d, i) => (
          <Marker key={i} cx={x(d[0])} cy={y(d[1])} n={d[2]} p={d[3]} />
        ))}
      </g>
      <rect x={left} y={top} width={right - left} height={bottom - top} fill="none" stroke="black" strokeWidth={1.2} />
      {xTicks.map((t) => (
        <g key={t} transform={`translate(${x(t)},${bottom})`}>
          <line y2={5.8} stroke="black" strokeWidth={1.1} />
          <text y={labelOffset} textAnchor="middle" fontFamily={FONT} fontSize={17.3}>{fmt(t)}</text>
        </g>
      ))}
      {yTicks.map((t) => (
        <g key={t} transform={`translate(${left},${y(t)})`}>
          <line x2={-5.8} stroke="black" strokeWidth={1.1} />
          <text x={-12} y={6.3} textAnchor="end" fontFamily={FONT} fontSize={17.3}>{fmt(t)}</text>
        </g>
      ))}
      <Legend x={legend[0]} y={legend[1]} />
    </g>
  );
}

export default function App() {
  return (
    <svg width={528} height={1006} style={{ position: 'absolute', left: 0, top: 0, background: 'white' }}>
      <rect width={528} height={1006} fill="white" />
      <Panel
        id="clip-tagger"
        title="UMAP projection of tagger embeddings"
        points={taggerPoints}
        xDomain={[2.05, 10.43]}
        yDomain={[-1.533, 4.172]}
        top={28.7}
        bottom={460}
        xTicks={taggerXTicks}
        yTicks={taggerYTicks}
        legend={[286, 37.3]}
        labelOffset={26}
      />
      <Panel
        id="clip-skipgram"
        title="UMAP projection of skipgram embeddings"
        points={skipgramPoints}
        xDomain={[7.262, 13.65]}
        yDomain={[4.058, 9.68]}
        top={546.7}
        bottom={981.3}
        xTicks={skipgramXTicks}
        yTicks={skipgramYTicks}
        legend={[46, 555.3]}
        labelOffset={20.3}
      />
    </svg>
  );
}
